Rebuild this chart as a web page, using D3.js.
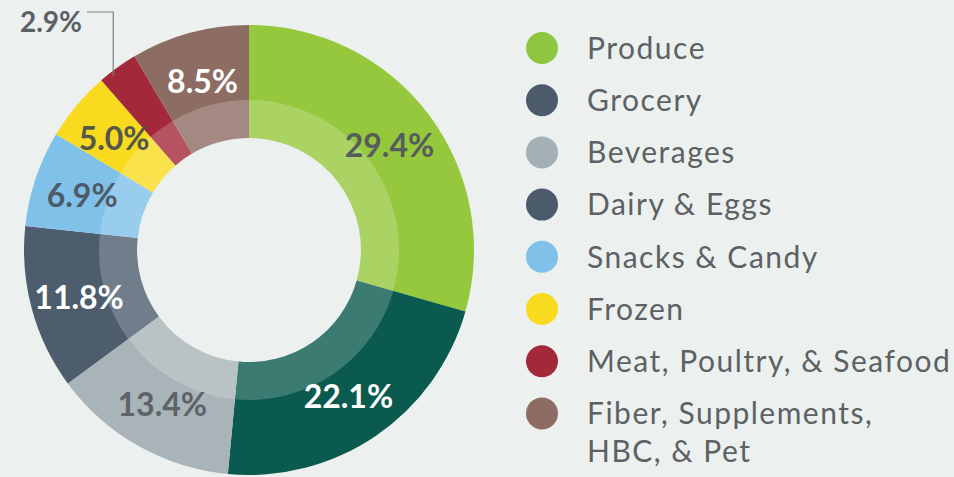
<!DOCTYPE html>
<html>
<head>
<meta charset="utf-8">
<script src="https://cdn.jsdelivr.net/npm/d3@7/dist/d3.min.js"></script>
<style>
  html, body { margin: 0; padding: 0; background: #ecf0ef; }
  svg { display: block; }
</style>
</head>
<body>
<svg id="chart" width="954" height="477"></svg>
<script>
// data
var categories = ['Produce', 'Grocery', 'Beverages', 'Dairy & Eggs', 'Snacks & Candy',
    'Frozen', 'Meat, Poultry, & Seafood', 'Fiber, Supplements, HBC, & Pet'];
var shares = [29.4, 22.1, 13.4, 11.8, 6.9, 5.0, 2.9, 8.5];
var legendLines = [['Produce'], ['Grocery'], ['Beverages'], ['Dairy & Eggs'], ['Snacks & Candy'],
    ['Frozen'], ['Meat, Poultry, & Seafood'], ['Fiber, Supplements,', 'HBC, & Pet']];
var sliceColors = ['#95c83d', '#0b5a4f', '#a8b4b8', '#4d5d6e', '#7fc1e9', '#f8db1f', '#a3283a', '#8d6c63'];
var legendColors = ['#8fc63f', '#4b5b6b', '#a3b0b5', '#4b5b6b', '#7fc1e9', '#f8db1f', '#a3283a', '#8d6c63'];
var labelColors = ['#565c5e', '#ffffff', '#5d6367', '#ffffff', '#4e5a66', '#55574a', null, '#ffffff'];

var svg = d3.select('#chart');
var cx = 249, cy = 250;
var rOuter = 225, rBand = 150, rInner = 112;

var data = categories.map(function(c, i) {
    return { name: c, value: shares[i], i: i };
});

var pie = d3.pie()
    .sort(null)
    .value(function(d) { return d.value; });

var arcs = pie(data);

var arc = d3.arc().innerRadius(rInner).outerRadius(rOuter);
var bandArc = d3.arc().innerRadius(rInner).outerRadius(rBand);
var labelArc = d3.arc().innerRadius(176).outerRadius(176);

var g = svg.append('g').attr('transform', 'translate(' + cx + ',' + cy + ')');

g.selectAll('path.slice')
    .data(arcs)
    .enter().append('path')
    .attr('class', 'slice')
    .attr('d', arc)
    .attr('fill', function(d) { return sliceColors[d.data.i]; });

// lighter inner band
g.selectAll('path.band')
    .data(arcs)
    .enter().append('path')
    .attr('class', 'band')
    .attr('d', bandArc)
    .attr('fill', '#ffffff')
    .attr('fill-opacity', 0.2);

var fmt = function(v) { return v.toFixed(1) + '%'; };

g.selectAll('text.pct')
    .data(arcs.filter(function(d) { return labelColors[d.data.i]; }))
    .enter().append('text')
    .attr('class', 'pct')
    .attr('transform', function(d) {
        var c = labelArc.centroid(d);
        return 'translate(' + c[0] + ',' + c[1] + ')';
    })
    .attr('text-anchor', 'middle')
    .attr('dy', '0.4em')
    .style('font-family', 'Lato, sans-serif')
    .style('font-weight', 700)
    .style('font-size', '32px')
    .attr('fill', function(d) { return labelColors[d.data.i]; })
    .text(function(d) { return fmt(d.data.value); });

// small slice: outside label with leader line
var small = arcs[6];
var a = small.startAngle + (small.endAngle - small.startAngle) * 0.3;
var tipX = cx + (rOuter - 4) * Math.sin(a);
var tipY = cy - (rOuter - 4) * Math.cos(a);
var elbowY = 12;

svg.append('path')
    .attr('d', 'M' + tipX + ',' + tipY + 'V' + elbowY + 'H' + 87)
    .attr('fill', 'none')
    .attr('stroke', '#7d8487')
    .attr('stroke-width', 1.2);

svg.append('text')
    .attr('x', 82)
    .attr('y', 32)
    .attr('text-anchor', 'end')
    .style('font-family', 'Lato, sans-serif')
    .style('font-weight', 700)
    .style('font-size', '28px')
    .attr('fill', '#5b6064')
    .text(fmt(small.data.value));

// legend
var legend = svg.append('g').attr('transform', 'translate(542,48)');
var rowH = 52.2;

var rows = legend.selectAll('g.row')
    .data(data)
    .enter().append('g')
    .attr('class', 'row')
    .attr('transform', function(d) { return 'translate(0,' + (d.i * rowH) + ')'; });

rows.append('circle')
    .attr('r', 16)
    .attr('fill', function(d) { return legendColors[d.i]; });

rows.append('text')
    .attr('x', 45)
    .attr('y', 0)
    .style('font-family', 'Lato, sans-serif')
    .style('font-size', '30px')
    .style('letter-spacing', '1.5px')
    .attr('fill', '#5c6164')
    .selectAll('tspan')
    .data(function(d) { return legendLines[d.i]; })
    .enter().append('tspan')
    .attr('x', 45)
    .attr('dy', function(t, j) { return j === 0 ? '0.36em' : '38px'; })
    .text(function(t) { return t; });
</script>
</body>
</html>
